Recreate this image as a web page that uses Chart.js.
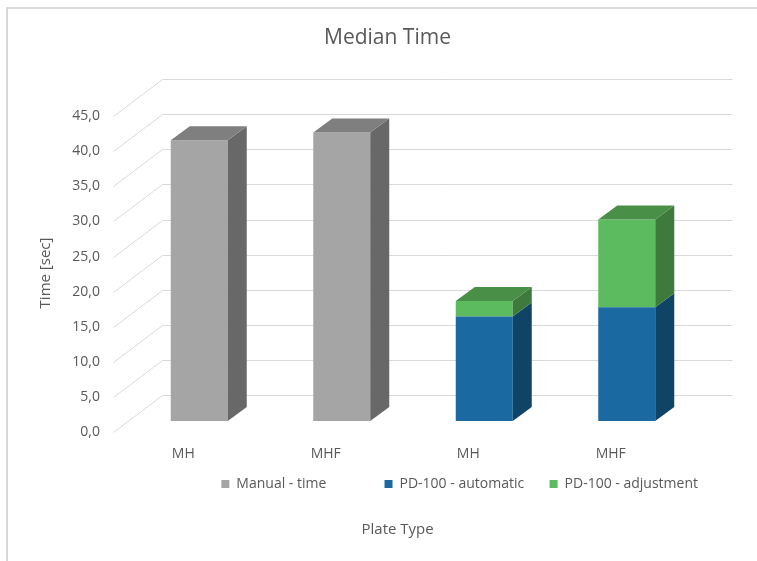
<!DOCTYPE html>
<html>
<head>
<meta charset="utf-8">
<script src="https://cdn.jsdelivr.net/npm/chart.js@4.4.1/dist/chart.umd.min.js"></script>
<style>
  html, body { margin:0; padding:0; background:#fff; }
  canvas { display:block; }
</style>
</head>
<body>
<canvas id="chart" width="757" height="561"></canvas>
<script>
const categories = ['MH', 'MHF', 'MH', 'MHF'];
const manualTime = [40.0, 41.1, null, null];
const pdAutomatic = [null, null, 14.9, 16.2];
const pdAdjustment = [null, null, 2.2, 12.5];
const yMin = 0, yMax = 45, yStep = 5;

const FONT = '"Open Sans", "Segoe UI", sans-serif';
const TEXT = '#595959';
const GRID = '#d9d9d9';
// oblique offsets for the fake 3d look (relative to the bars' front plane)
const DEPTH = { dx: 19, dy: -14 };
const WALL = { dx: 34.5, dy: -26 };
const FRONT = { dx: -14.5, dy: 11 };

const box3d = {
  id: 'box3d',
  beforeDraw(chart){
    const ctx = chart.ctx;
    ctx.save();
    ctx.fillStyle = '#fff';
    ctx.fillRect(0, 0, chart.width, chart.height);
    ctx.strokeStyle = GRID;
    ctx.lineWidth = 2;
    ctx.beginPath();
    ctx.moveTo(7, chart.height);
    ctx.lineTo(7, 8);
    ctx.lineTo(chart.width, 8);
    ctx.stroke();
    ctx.restore();
  },
  beforeDatasetsDraw(chart){
    const {ctx, chartArea, scales:{y}} = chart;
    ctx.save();
    ctx.strokeStyle = GRID;
    ctx.lineWidth = 1;
    ctx.beginPath();
    y.ticks.forEach(t => {
      const py = Math.round(y.getPixelForValue(t.value)) + 0.5;
      ctx.moveTo(chartArea.left + FRONT.dx, py + FRONT.dy);
      ctx.lineTo(chartArea.left + WALL.dx, py + WALL.dy);
      ctx.lineTo(chartArea.right + WALL.dx, py + WALL.dy);
    });
    ctx.stroke();
    // y axis title
    ctx.fillStyle = TEXT;
    ctx.font = '15px ' + FONT;
    ctx.textAlign = 'center';
    ctx.textBaseline = 'middle';
    ctx.translate(46, 273);
    ctx.rotate(-Math.PI / 2);
    ctx.fillText('Time [sec]', 0, 0);
    ctx.restore();
  },
  afterDatasetsDraw(chart){
    const ctx = chart.ctx;
    const sets = chart.data.datasets;
    ctx.save();
    chart.data.labels.forEach((_, j) => {
      let topIdx = -1;
      sets.forEach((ds, i) => { if(ds.data[j] != null && chart.isDatasetVisible(i)) topIdx = i; });
      sets.forEach((ds, i) => {
        if(ds.data[j] == null || !chart.isDatasetVisible(i)) return;
        const {x, y, base, width} = chart.getDatasetMeta(i).data[j].getProps(['x', 'y', 'base', 'width'], true);
        const l = x - width / 2, r = x + width / 2;
        ctx.fillStyle = ds.sideColor;
        ctx.beginPath();
        ctx.moveTo(r, y);
        ctx.lineTo(r + DEPTH.dx, y + DEPTH.dy);
        ctx.lineTo(r + DEPTH.dx, base + DEPTH.dy);
        ctx.lineTo(r, base);
        ctx.closePath();
        ctx.fill();
        if(i === topIdx){
          ctx.fillStyle = ds.topColor;
          ctx.beginPath();
          ctx.moveTo(l, y);
          ctx.lineTo(l + DEPTH.dx, y + DEPTH.dy);
          ctx.lineTo(r + DEPTH.dx, y + DEPTH.dy);
          ctx.lineTo(r, y);
          ctx.closePath();
          ctx.fill();
        }
      });
    });
    ctx.restore();
  }
};

// excel lays legend entries out in equal columns; trailing spaces mimic that
const legendPad = [16, 7, 0];

new Chart(document.getElementById('chart'), {
  type: 'bar',
  data: {
    labels: categories,
    datasets: [{
      label: 'Manual - time',
      data: manualTime,
      backgroundColor: '#a5a5a5', sideColor: '#686868', topColor: '#7f7f7f'
    },{
      label: 'PD-100 - automatic',
      data: pdAutomatic,
      backgroundColor: '#1a69a0', sideColor: '#0f4467', topColor: '#14558a'
    },{
      label: 'PD-100 - adjustment',
      data: pdAdjustment,
      backgroundColor: '#5dbb5f', sideColor: '#3e7a3b', topColor: '#4a8f48'
    }]
  },
  options: {
    responsive: false,
    animation: false,
    barPercentage: 0.4,
    categoryPercentage: 1,
    layout: { padding: { left: 66, right: 59, top: 0, bottom: 0 } },
    plugins: {
      title: {
        display: true, text: '  Median Time', color: TEXT,
        font: { family: FONT, size: 21, weight: 'normal' },
        padding: { top: 25, bottom: 55 }
      },
      subtitle: {
        display: true, text: '        Plate Type', position: 'bottom', color: TEXT,
        font: { family: FONT, size: 15, weight: 'normal' },
        padding: { top: 20, bottom: 22 }
      },
      legend: {
        position: 'bottom',
        align: 'end',
        labels: {
          boxWidth: 8, boxHeight: 8, padding: 0, color: TEXT, font: { family: FONT, size: 14 },
          generateLabels(chart){
            return Chart.defaults.plugins.legend.labels.generateLabels(chart).map((it, i) => {
              it.text = it.text + ' '.repeat(legendPad[i]);
              it.lineWidth = 0;
              return it;
            });
          }
        }
      },
      tooltip: { enabled: false }
    },
    scales: {
      x: {
        stacked: true,
        grid: { display: false, drawTicks: false },
        border: { display: false },
        ticks: { color: TEXT, font: { family: FONT, size: 14 }, padding: 25, labelOffset: -16 },
        afterFit(scale){ scale.height = 56; }
      },
      y: {
        stacked: true,
        min: yMin, max: yMax,
        grid: { display: false, drawTicks: false },
        border: { display: false },
        ticks: {
          stepSize: yStep, color: TEXT, font: { family: FONT, size: 14 }, padding: 28, labelOffset: 11,
          callback: v => v.toFixed(1).replace('.', ',')
        },
        afterFit(scale){ scale.width = 62; }
      }
    }
  },
  plugins: [box3d]
});
</script>
</body>
</html>
